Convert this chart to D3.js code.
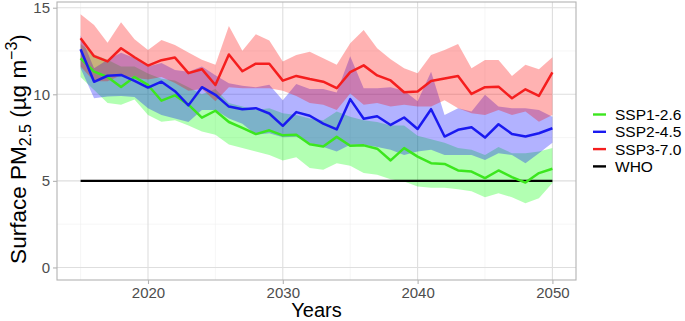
<!DOCTYPE html>
<html>
<head>
<meta charset="utf-8">
<script src="https://cdn.jsdelivr.net/npm/d3@7"></script>
<style>
  body { margin: 0; background: #fff; }
  text { font-family: "Liberation Sans", Arial, Helvetica, sans-serif; }
</style>
</head>
<body>
<div id="chart"></div>
<script>
// data: yearly multi-model means and spread, 2015-2050
var years = d3.range(2015, 2051);

var ssp126   = [12.08, 11.31, 11.0, 10.42, 11.0, 10.54, 9.63, 9.94, 9.4, 8.65, 9.05, 8.4, 8.06, 7.7, 7.92, 7.63, 7.66, 7.11, 6.98, 7.54, 7.03, 7.05, 6.86, 6.18, 6.89, 6.4, 6.02, 5.98, 5.6, 5.54, 5.16, 5.6, 5.22, 4.9, 5.45, 5.7];
var ssp126Hi = [12.9, 12.3, 12.0, 11.6, 11.6, 11.2, 10.9, 10.8, 10.4, 10.0, 10.3, 9.5, 9.3, 9.1, 9.2, 8.9, 8.8, 8.6, 8.5, 9.0, 8.7, 8.5, 8.4, 8.2, 8.2, 7.6, 7.4, 7.2, 6.9, 6.8, 6.5, 6.95, 6.6, 6.6, 6.7, 6.9];
var ssp126Lo = [11.0, 10.25, 9.5, 9.39, 9.7, 8.81, 8.42, 8.5, 8.2, 7.85, 7.66, 7.1, 6.9, 6.69, 6.5, 6.17, 6.37, 5.74, 5.64, 6.02, 5.87, 5.45, 5.35, 5.1, 4.96, 4.67, 4.6, 4.6, 4.52, 4.4, 4.06, 4.29, 4.05, 3.71, 4.0, 4.87];

var ssp245   = [12.6, 10.72, 11.07, 11.12, 10.78, 10.39, 10.73, 10.18, 9.36, 10.41, 9.97, 9.29, 9.14, 9.2, 8.89, 8.18, 8.97, 8.76, 8.31, 7.97, 9.72, 8.59, 8.73, 8.23, 8.66, 8.0, 9.14, 7.56, 7.95, 8.1, 7.5, 8.27, 7.71, 7.56, 7.75, 8.04];
var ssp245Hi = [13.4, 11.5, 12.0, 12.4, 12.1, 11.6, 11.8, 11.4, 11.3, 11.6, 11.1, 10.64, 10.5, 10.4, 10.55, 9.65, 10.6, 10.3, 10.3, 10.1, 12.2, 10.35, 10.35, 10.4, 10.2, 9.6, 11.3, 8.8, 9.2, 9.0, 9.97, 9.29, 9.2, 9.2, 9.1, 8.7];
var ssp245Lo = [11.5, 9.77, 9.87, 9.9, 9.85, 9.2, 8.8, 8.6, 8.4, 9.1, 9.1, 8.6, 8.3, 7.66, 7.75, 7.52, 7.55, 7.18, 6.95, 6.7, 7.08, 7.08, 6.95, 6.79, 6.5, 6.7, 6.8, 6.5, 6.5, 6.5, 6.2, 6.6, 6.5, 6.02, 6.6, 7.2];

var ssp370   = [13.24, 12.2, 11.9, 12.66, 12.14, 11.66, 11.97, 12.12, 11.22, 11.45, 10.54, 12.3, 11.33, 11.77, 11.76, 10.79, 11.06, 10.88, 10.73, 10.35, 11.28, 11.67, 11.09, 10.8, 10.12, 10.16, 10.77, 10.91, 11.06, 10.02, 10.41, 10.44, 9.77, 10.29, 9.91, 11.27];
var ssp370Hi = [14.62, 14.0, 12.98, 14.16, 13.18, 12.56, 13.14, 12.85, 12.41, 12.0, 11.7, 13.95, 12.52, 13.47, 13.1, 11.89, 12.27, 12.46, 12.08, 11.7, 12.95, 13.72, 12.66, 12.02, 11.5, 11.22, 12.27, 12.56, 12.9, 11.5, 11.98, 11.98, 11.06, 11.7, 11.45, 12.14];
var ssp370Lo = [11.6, 10.75, 10.75, 11.1, 10.95, 10.85, 11.0, 10.65, 10.2, 10.3, 9.6, 10.4, 10.35, 10.35, 10.35, 10.2, 9.9, 9.5, 9.4, 9.1, 10.05, 9.4, 9.5, 9.3, 9.4, 9.3, 9.3, 9.65, 9.2, 8.9, 8.81, 9.1, 8.8, 9.0, 8.42, 8.8];

var whoLevel = 5;

var scenarios = ["SSP1-2.6", "SSP2-4.5", "SSP3-7.0"];
var legendLabels = ["SSP1-2.6", "SSP2-4.5", "SSP3-7.0", "WHO"];
var xTicks = [2020, 2030, 2040, 2050];
var xMinor = [2015, 2025, 2035, 2045];
var yTicks = [0, 5, 10, 15];
var yMinor = [2.5, 7.5, 12.5];

// build one table per scenario
var series = [
  {name: scenarios[0], mean: ssp126, lo: ssp126Lo, hi: ssp126Hi, line: "#3ce61e", fill: "#00ff00"},
  {name: scenarios[1], mean: ssp245, lo: ssp245Lo, hi: ssp245Hi, line: "#1a1af0", fill: "#0000ff"},
  {name: scenarios[2], mean: ssp370, lo: ssp370Lo, hi: ssp370Hi, line: "#f51e1e", fill: "#ff0000"}
].map(function(s) {
  s.values = years.map(function(yr, i) {
    return {year: yr, mean: s.mean[i], lo: s.lo[i], hi: s.hi[i]};
  });
  return s;
});

var W = 685, H = 321;
var panel = {left: 57, right: 576, top: 2, bottom: 280};

var svg = d3.select("#chart")
  .append("svg")
    .attr("width", W)
    .attr("height", H);

var x = d3.scaleLinear()
  .domain([2013.25, 2051.75])
  .range([panel.left, panel.right]);

var y = d3.scaleLinear()
  .domain([-0.725, 15.33])
  .range([panel.bottom, panel.top]);

// grid
var grid = svg.append("g");
grid.selectAll(".ymin").data(yMinor).enter().append("line")
  .attr("x1", panel.left).attr("x2", panel.right)
  .attr("y1", function(d) { return y(d); }).attr("y2", function(d) { return y(d); })
  .attr("stroke", "#f0f0f0").attr("stroke-width", 0.6);
grid.selectAll(".xmin").data(xMinor).enter().append("line")
  .attr("y1", panel.top).attr("y2", panel.bottom)
  .attr("x1", function(d) { return x(d); }).attr("x2", function(d) { return x(d); })
  .attr("stroke", "#f0f0f0").attr("stroke-width", 0.6);
grid.selectAll(".ymaj").data(yTicks).enter().append("line")
  .attr("x1", panel.left).attr("x2", panel.right)
  .attr("y1", function(d) { return y(d); }).attr("y2", function(d) { return y(d); })
  .attr("stroke", "#dedede").attr("stroke-width", 1.1);
grid.selectAll(".xmaj").data(xTicks).enter().append("line")
  .attr("y1", panel.top).attr("y2", panel.bottom)
  .attr("x1", function(d) { return x(d); }).attr("x2", function(d) { return x(d); })
  .attr("stroke", "#dedede").attr("stroke-width", 1.1);

// ribbons
var area = d3.area()
  .x(function(d) { return x(d.year); })
  .y0(function(d) { return y(d.lo); })
  .y1(function(d) { return y(d.hi); });

svg.selectAll(".ribbon")
  .data(series)
  .enter()
  .append("path")
    .attr("class", "ribbon")
    .attr("d", function(d) { return area(d.values); })
    .attr("fill", function(d) { return d.fill; })
    .attr("fill-opacity", 0.3);

// WHO guideline
svg.append("path")
  .datum(years.map(function(yr) { return {year: yr, mean: whoLevel}; }))
  .attr("fill", "none")
  .attr("stroke", "#000")
  .attr("stroke-width", 2.4)
  .attr("d", d3.line()
    .x(function(d) { return x(d.year); })
    .y(function(d) { return y(d.mean); }));

// mean lines
var line = d3.line()
  .x(function(d) { return x(d.year); })
  .y(function(d) { return y(d.mean); });

svg.selectAll(".mean")
  .data(series)
  .enter()
  .append("path")
    .attr("class", "mean")
    .attr("d", function(d) { return line(d.values); })
    .attr("fill", "none")
    .attr("stroke", function(d) { return d.line; })
    .attr("stroke-width", 2.5)
    .attr("stroke-linejoin", "round");

// panel border
svg.append("rect")
  .attr("x", panel.left).attr("y", panel.top)
  .attr("width", panel.right - panel.left).attr("height", panel.bottom - panel.top)
  .attr("fill", "none").attr("stroke", "#b3b3b3").attr("stroke-width", 1.1);

// axes
var xAxis = svg.append("g")
  .attr("transform", "translate(0," + panel.bottom + ")")
  .call(d3.axisBottom(x).tickValues(xTicks).tickFormat(d3.format("d")).tickSize(4).tickPadding(3));
var yAxis = svg.append("g")
  .attr("transform", "translate(" + panel.left + ",0)")
  .call(d3.axisLeft(y).tickValues(yTicks).tickSize(4).tickPadding(3));

[xAxis, yAxis].forEach(function(a) {
  a.select(".domain").remove();
  a.selectAll("line").attr("stroke", "#b3b3b3").attr("stroke-width", 1.1);
  a.selectAll("text").attr("fill", "#4d4d4d").style("font-size", "15px");
});

// axis titles
svg.append("text")
  .attr("x", (panel.left + panel.right) / 2)
  .attr("y", 317)
  .attr("text-anchor", "middle")
  .style("font-size", "20px")
  .text("Years");

var yt = svg.append("text")
  .attr("transform", "translate(26,149) rotate(-90)")
  .attr("text-anchor", "middle")
  .style("font-size", "22.5px");
yt.append("tspan").text("Surface PM");
yt.append("tspan").attr("dy", 5).style("font-size", "16px").text("2.5");
yt.append("tspan").attr("dy", -5).text(" (\u00b5g m");
yt.append("tspan").attr("dy", -9).style("font-size", "16px").text("\u22123");
yt.append("tspan").attr("dy", 9).text(")");

// legend
var legendColors = series.map(function(s) { return s.line; }).concat(["#000"]);
var legend = svg.append("g")
  .selectAll("g")
  .data(legendLabels)
  .enter()
  .append("g")
    .attr("transform", function(d, i) { return "translate(593," + (114.5 + i * 17.3) + ")"; });

legend.append("line")
  .attr("x1", 0).attr("x2", 13)
  .attr("stroke", function(d, i) { return legendColors[i]; })
  .attr("stroke-width", 2.4);

legend.append("text")
  .attr("x", 22)
  .attr("y", 5.5)
  .style("font-size", "15.5px")
  .text(function(d) { return d; });
</script>
</body>
</html>
